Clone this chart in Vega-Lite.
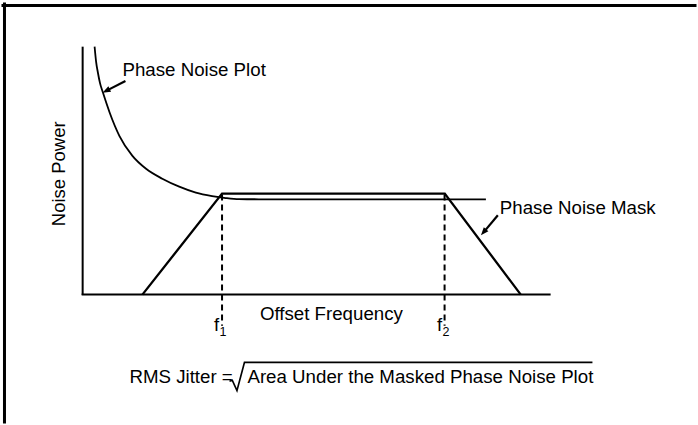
{
  "$schema": "https://vega.github.io/schema/vega-lite/v6.json",
  "width": 698,
  "height": 425,
  "autosize": {"type": "fit", "contains": "padding"},
  "padding": 0,
  "background": "white",
  "config": {"view": {"stroke": null}},
  "datasets": {
    "frame": [
      {"x": 3, "y": 5.5, "x2": 698, "y2": 5.5},
      {"x": 4.5, "y": 4, "x2": 4.5, "y2": 425}
    ],
    "axes": [
      {"x": 83, "y": 47, "x2": 83, "y2": 297},
      {"x": 82, "y": 296.7, "x2": 553, "y2": 296.7}
    ],
    "curve": [
      {"x": 95, "y": 47},
      {"x": 96.5, "y": 62},
      {"x": 98.3, "y": 73},
      {"x": 100.5, "y": 84},
      {"x": 103.3, "y": 93},
      {"x": 110, "y": 113},
      {"x": 120, "y": 137},
      {"x": 133, "y": 157},
      {"x": 146.7, "y": 170},
      {"x": 163, "y": 180},
      {"x": 180, "y": 188},
      {"x": 196.7, "y": 194},
      {"x": 213, "y": 197.5},
      {"x": 226.7, "y": 199.5},
      {"x": 240, "y": 200.6},
      {"x": 260, "y": 200.7},
      {"x": 488, "y": 200.7}
    ],
    "mask": [
      {"x": 143, "y": 296.7, "o": 1},
      {"x": 223, "y": 195, "o": 2},
      {"x": 446.7, "y": 195, "o": 3},
      {"x": 523, "y": 296.7, "o": 4}
    ],
    "dashes": [
      {"x": 223, "y": 196, "x2": 223, "y2": 328},
      {"x": 446.5, "y": 196, "x2": 446.5, "y2": 328}
    ],
    "shafts": [
      {"x": 126, "y": 81.5, "x2": 106.6, "y2": 91.5},
      {"x": 500, "y": 216.7, "x2": 485.6, "y2": 234}
    ],
    "head1": [{"x": 103, "y": 93.3}],
    "head2": [{"x": 483, "y": 237}],
    "labels": [
      {"x": 123, "y": 70, "text": "Phase Noise Plot"},
      {"x": 502, "y": 209, "text": "Phase Noise Mask"},
      {"x": 261, "y": 316, "text": "Offset Frequency"},
      {"x": 130, "y": 380, "text": "RMS Jitter ="},
      {"x": 248.5, "y": 380, "text": "Area Under the Masked Phase Noise Plot"}
    ],
    "ylabel": [{"x": 59, "y": 175, "text": "Noise Power"}],
    "fmain": [
      {"x": 215, "y": 333, "text": "f"},
      {"x": 439, "y": 333, "text": "f"}
    ],
    "fsub": [
      {"x": 220.5, "y": 338, "text": "1"},
      {"x": 444.5, "y": 338, "text": "2"}
    ],
    "radical": [
      {"x": 230.5, "y": 384, "o": 1},
      {"x": 233.3, "y": 383, "o": 2},
      {"x": 238, "y": 393.3, "o": 3},
      {"x": 245.5, "y": 365, "o": 4},
      {"x": 595, "y": 365, "o": 5}
    ]
  },
  "encoding": {
    "x": {"field": "x", "type": "quantitative", "scale": {"domain": [0, 698], "nice": false, "zero": false}, "axis": null},
    "y": {"field": "y", "type": "quantitative", "scale": {"domain": [0, 425], "nice": false, "zero": false, "reverse": true}, "axis": null}
  },
  "layer": [
    {
      "data": {"name": "frame"},
      "mark": {"type": "rule", "color": "black", "strokeWidth": 3, "strokeCap": "square"},
      "encoding": {"x2": {"field": "x2"}, "y2": {"field": "y2"}}
    },
    {
      "data": {"name": "axes"},
      "mark": {"type": "rule", "color": "black", "strokeWidth": 2},
      "encoding": {"x2": {"field": "x2"}, "y2": {"field": "y2"}}
    },
    {
      "data": {"name": "dashes"},
      "mark": {"type": "rule", "color": "black", "strokeWidth": 2, "strokeDash": [6, 4]},
      "encoding": {"x2": {"field": "x2"}, "y2": {"field": "y2"}}
    },
    {
      "data": {"name": "curve"},
      "mark": {"type": "line", "color": "black", "strokeWidth": 1.8, "interpolate": "monotone"},
      "encoding": {}
    },
    {
      "data": {"name": "mask"},
      "mark": {"type": "line", "color": "black", "strokeWidth": 2.3, "strokeJoin": "miter"},
      "encoding": {"order": {"field": "o", "type": "quantitative"}}
    },
    {
      "data": {"name": "shafts"},
      "mark": {"type": "rule", "color": "black", "strokeWidth": 2.2},
      "encoding": {"x2": {"field": "x2"}, "y2": {"field": "y2"}}
    },
    {
      "data": {"name": "head1"},
      "mark": {"type": "point", "shape": "M0,0L-0.6,1.6L0.6,1.6Z", "filled": true, "color": "black", "opacity": 1, "size": 100, "angle": 243.3}
    },
    {
      "data": {"name": "head2"},
      "mark": {"type": "point", "shape": "M0,0L-0.6,1.6L0.6,1.6Z", "filled": true, "color": "black", "opacity": 1, "size": 100, "angle": 220.4}
    },
    {
      "data": {"name": "radical"},
      "mark": {"type": "line", "color": "black", "strokeWidth": 1.6, "strokeJoin": "miter"},
      "encoding": {"order": {"field": "o", "type": "quantitative"}}
    },
    {
      "data": {"name": "labels"},
      "mark": {"type": "text", "align": "left", "baseline": "middle", "font": "Liberation Sans", "fontSize": 18.7, "color": "black"},
      "encoding": {"text": {"field": "text"}}
    },
    {
      "data": {"name": "ylabel"},
      "mark": {"type": "text", "align": "center", "baseline": "middle", "angle": 270, "font": "Liberation Sans", "fontSize": 18.5, "color": "black"},
      "encoding": {"text": {"field": "text"}}
    },
    {
      "data": {"name": "fmain"},
      "mark": {"type": "text", "align": "left", "baseline": "alphabetic", "font": "Liberation Sans", "fontSize": 18.5, "color": "black"},
      "encoding": {"text": {"field": "text"}}
    },
    {
      "data": {"name": "fsub"},
      "mark": {"type": "text", "align": "left", "baseline": "alphabetic", "font": "Liberation Sans", "fontSize": 12.5, "color": "black"},
      "encoding": {"text": {"field": "text"}}
    }
  ]
}
